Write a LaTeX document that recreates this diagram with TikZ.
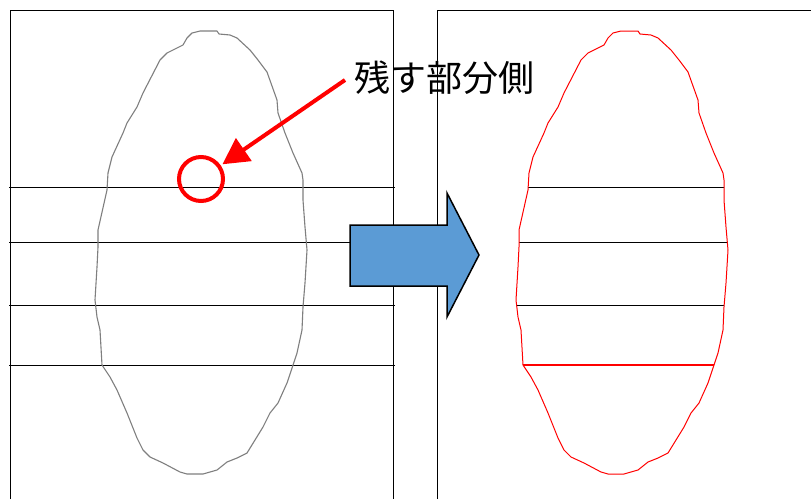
\documentclass[tikz,border=0pt]{standalone}
\usepackage{fontspec}
\newfontfamily\jpfont{Noto Sans CJK JP}
\usepackage{xcolor}
\usetikzlibrary{arrows.meta,positioning}
\definecolor{grainline}{HTML}{7F7F7F}
\definecolor{arrowblue}{HTML}{5B9BD5}
\def\grainpath{(200,31) -- (217,31) -- (219,34) -- (230,35) -- (237,38) -- (250,50) -- (258,60) -- (267,72) -- (277,100) -- (278,113) -- (285,133) -- (293,153) -- (302,173) -- (303,180) -- (303,200) -- (305,227) -- (307,250) -- (305,283) -- (303,307) -- (302,330) -- (297,353) -- (293,365) -- (287,383) -- (278,403) -- (270,413) -- (263,427) -- (247,453) -- (237,458) -- (227,462) -- (217,470) -- (203,474) -- (187,474) -- (180,472) -- (163,463) -- (150,457) -- (143,450) -- (137,438) -- (127,413) -- (117,390) -- (110,377) -- (102,365) -- (100,330) -- (97,317) -- (95,300) -- (97,267) -- (98,247) -- (98,230) -- (107,190) -- (108,173) -- (112,157) -- (123,133) -- (127,123) -- (137,107) -- (143,93) -- (160,60) -- (167,53) -- (183,45) -- (187,38) -- (192,33) -- cycle}
\begin{document}
\begin{tikzpicture}[x=1pt,y=-1pt,
  every node/.style={font=\jpfont},
  panel/.style={draw=black,line width=1pt},
  cut/.style={draw=black,line width=1pt},
  grain/.style={draw=grainline,line width=1.1pt,line join=round},
  kept/.style={draw=red,line width=1pt,line join=round},
  ring/.style={circle,draw=red,line width=4pt,minimum size=44pt,inner sep=0pt},
  pointer/.style={-{Triangle[length=26pt,width=27pt]},draw=red,fill=red,line width=4pt},
  blockarrow/.style={draw=black,fill=arrowblue,line width=1.5pt,line join=miter}]
 \useasboundingbox (0,0) rectangle (811,499);
 \fill[white] (0,0) rectangle (811,499);
 % left panel
 \draw[panel] (10,499) -- (10,10) -- (393,10) -- (393,499);
 \foreach \y in {187,242,305,365} \draw[cut] (9,\y) -- (395,\y);
 \draw[grain] \grainpath;
 % right panel
 \node[font=\jpfont\fontsize{36pt}{40pt}\selectfont,anchor=west,inner sep=0pt] (lbl) at (354,78) {残す部分側};
 \draw[panel] (437,499) -- (437,10) -- (811,10);
 \begin{scope}[shift={(421,0)}]
  \clip \grainpath;
  \foreach \y in {187,242,305} \draw[cut] (80,\y) -- (320,\y);
  \draw[kept,line width=1.3pt] (80,365) -- (320,365);
 \end{scope}
 \begin{scope}[shift={(421,0)}]
  \draw[kept] \grainpath;
 \end{scope}
 \node[ring] (spot) at (201,179) {};
 \coordinate (tail) at (345,80);
 \draw[pointer,shorten >=2pt] (tail) -- (spot);
 \draw[blockarrow] (350,225) -- (447,225) -- (447,193) -- (479,255) -- (447,317) -- (447,286) -- (350,286) -- cycle;
\end{tikzpicture}
\end{document}
